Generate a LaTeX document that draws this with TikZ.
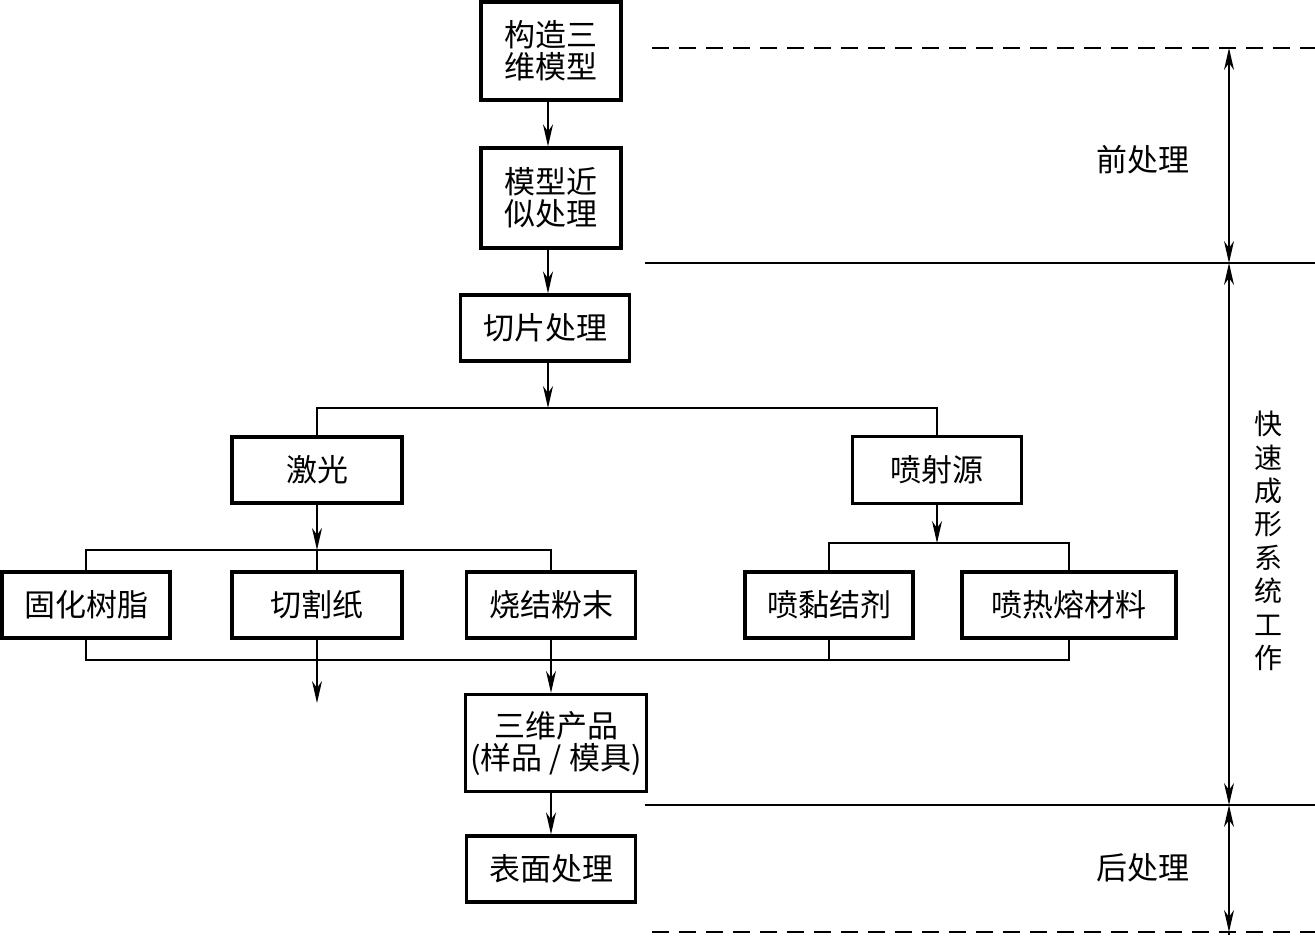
\documentclass[tikz,border=0pt]{standalone}
\usepackage{fontspec}
\setmainfont{Noto Sans CJK SC}
\usetikzlibrary{arrows.meta}
\begin{document}
\begin{tikzpicture}[x=1pt,y=-1pt,
  box/.style={draw,line width=3.2pt,inner sep=0pt,align=center,
    font=\fontsize{31}{32}\selectfont},
  conn/.style={line width=1.5pt},
  tip/.style={},
  arr/.style={conn,-{Stealth[length=22pt,width=10pt,inset=7pt]}},
  dim/.style={conn,{Stealth[length=22pt,width=10pt,inset=7pt]}-{Stealth[length=22pt,width=10pt,inset=7pt]}},
  lbl/.style={inner sep=0pt,font=\fontsize{31}{32}\selectfont},
  guide/.style={line width=1.5pt},
  dguide/.style={line width=1.5pt,dash pattern=on 17pt off 10pt}]
\useasboundingbox (0,0) rectangle (1315,935);
% boxes
\node[box,minimum width=140pt,minimum height=98pt] (n1) at (551,51) {构造三\\维模型};
\node[box,minimum width=140pt,minimum height=100pt] (n2) at (551,198) {模型近\\似处理};
\node[box,minimum width=169pt,minimum height=66pt] (n3) at (545,328) {切片处理};
\node[box,minimum width=170pt,minimum height=66pt] (n4) at (317,470) {激光};
\node[box,minimum width=169pt,minimum height=67pt] (n5) at (937,470) {喷射源};
\node[box,minimum width=168pt,minimum height=66pt] (n6) at (86,605) {固化树脂};
\node[box,minimum width=170pt,minimum height=66pt] (n7) at (317,605) {切割纸};
\node[box,minimum width=169pt,minimum height=66pt] (n8) at (551,605) {烧结粉末};
\node[box,minimum width=168pt,minimum height=66pt] (n9) at (829,605) {喷黏结剂};
\node[box,minimum width=214pt,minimum height=66pt] (n10) at (1069,605) {喷热熔材料};
\node[box,minimum width=181pt,minimum height=97pt] (n11) at (556,743) {三维产品\\(样品 / 模具)};
\node[box,minimum width=169pt,minimum height=66pt] (n12) at (551,869) {表面处理};
% junctions
\coordinate (b1) at (548,408);
\coordinate (b2) at (317,550);
\coordinate (b3) at (937,543);
\coordinate (b4) at (551,660);
\coordinate (e1) at (317,703);
% main chain
\draw[arr] (n1.south -| b1) -- (n2.north -| b1);
\draw[arr] (n2.south -| b1) -- (n3.north -| b1);
\draw[arr] (n3.south -| b1) -- (b1);
\draw[conn] (n4.north) |- (b1) -| (n5.north);
\draw[arr] (n4.south) -- (b2);
\draw[conn] (n6.north) |- (b2) -| (n8.north);
\draw[conn] (b2) -- (n7.north);
\draw[arr] (n5.south) -- (b3);
\draw[conn] (n9.north) |- (b3) -| (n10.north);
\draw[conn] (n6.south) |- (b4) -| (n10.south);
\draw[conn] (n9.south) -- (n9.south |- b4);
\draw[arr] (n7.south) -- (e1);
\draw[arr] (n8.south) -- (n8.south |- n11.north);
\draw[arr] (n11.south -| n12) -- (n12.north);
% stage guides
\coordinate (g1a) at (652,48);  \coordinate (g1b) at (1315,48);
\coordinate (g2a) at (645,263); \coordinate (g2b) at (1315,263);
\coordinate (g3a) at (645,805); \coordinate (g3b) at (1315,805);
\coordinate (g4a) at (652,932); \coordinate (g4b) at (1315,932);
\draw[dguide] (g1a) -- (g1b);
\draw[guide] (g2a) -- (g2b);
\draw[guide] (g3a) -- (g3b);
\draw[dguide] (g4a) -- (g4b);
\coordinate (v1) at (1229,48);
\coordinate (v2) at (1229,263);
\coordinate (v3) at (1229,805);
\coordinate (v4) at (1229,932);
\coordinate (v5) at (1229,935);
\draw[dim] (v1) -- (v2);
\draw[dim] (v2) -- (v3);
\draw[dim] (v3) -- (v4);
\draw[conn] (v4) -- (v5);
% labels
\node[lbl] (t1) at (1143,160) {前处理};
\node[lbl] (t2) at (1143,868) {后处理};
\node[inner sep=0pt,align=center,font=\fontsize{28}{33.4}\selectfont] (t3) at (1268,541) {快\\速\\成\\形\\系\\统\\工\\作};
\end{tikzpicture}
\end{document}
